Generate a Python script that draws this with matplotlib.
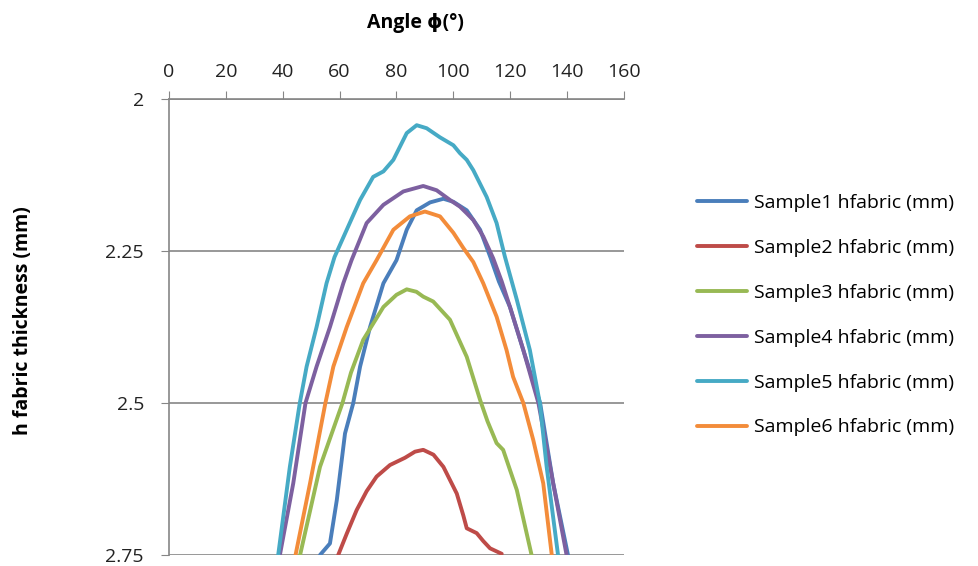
import matplotlib
matplotlib.use('Agg')
import matplotlib.pyplot as plt

# values (angle in degrees, thickness in mm)
s1_x = [53.1, 56.6, 59.0, 61.9, 64.8, 67.2, 70.7, 75.4, 80.0, 83.6, 87.1, 91.8, 96.5, 100.0,
        104.7, 109.4, 113.0, 116.0, 119.9, 124.6, 130.5, 135.1, 140.3]
s1_y = [2.75, 2.731, 2.66, 2.55, 2.5, 2.44, 2.375, 2.303, 2.265, 2.215, 2.183, 2.17, 2.164, 2.169,
        2.183, 2.215, 2.26, 2.30, 2.342, 2.413, 2.5, 2.632, 2.75]

s2_x = [59.5, 62.5, 66.0, 69.5, 73.0, 77.7, 83.0, 86.5, 89.4, 93.0, 96.5, 101.2, 103.5,
        104.7, 108.2, 110.5, 112.9, 117.0]
s2_y = [2.75, 2.715, 2.676, 2.645, 2.621, 2.602, 2.59, 2.58, 2.577, 2.585, 2.605, 2.649, 2.685,
        2.706, 2.714, 2.727, 2.739, 2.748]

s3_x = [46.1, 53.1, 61.0, 64.0, 68.3, 75.4, 80.0, 83.6, 87.0, 89.4, 92.9, 98.8, 104.7, 109.4,
        112.0, 115.2, 117.5, 122.3, 127.5]
s3_y = [2.75, 2.605, 2.5, 2.45, 2.396, 2.342, 2.322, 2.313, 2.317, 2.325, 2.333, 2.363, 2.424, 2.495,
        2.53, 2.566, 2.577, 2.643, 2.75]

s4_x = [39.0, 43.7, 48.0, 51.9, 56.6, 61.3, 64.2, 69.5, 75.4, 82.4, 89.4, 94.1, 98.8, 102.3,
        104.7, 107.0, 110.5, 114.0, 117.0, 119.9, 124.6, 129.9, 135.1, 139.8]
s4_y = [2.75, 2.632, 2.5, 2.44, 2.375, 2.303, 2.265, 2.204, 2.174, 2.152, 2.143, 2.15, 2.166, 2.177,
        2.188, 2.199, 2.226, 2.262, 2.30, 2.342, 2.413, 2.5, 2.632, 2.75]

s5_x = [38.4, 42.5, 46.0, 48.4, 51.9, 55.4, 58.2, 62.5, 67.2, 71.8, 75.4, 78.9, 83.6, 87.1,
        90.6, 95.3, 100.0, 102.3, 104.7, 107.0, 111.7, 115.2, 118.1, 122.3, 126.9, 130.4,
        132.8, 136.8]
s5_y = [2.75, 2.605, 2.5, 2.44, 2.375, 2.303, 2.26, 2.215, 2.166, 2.128, 2.119, 2.10, 2.056, 2.043,
        2.048, 2.063, 2.076, 2.089, 2.10, 2.117, 2.161, 2.204, 2.259, 2.33, 2.413, 2.5,
        2.605, 2.75]

s6_x = [44.5, 49.6, 55.0, 57.8, 62.5, 68.3, 73.0, 78.9, 84.7, 90.0, 95.3, 100.0, 103.5, 107.0,
        110.5, 115.2, 118.7, 121.0, 124.6, 128.1, 131.6, 134.6]
s6_y = [2.75, 2.632, 2.5, 2.44, 2.375, 2.303, 2.265, 2.215, 2.193, 2.185, 2.193, 2.22, 2.245, 2.268,
        2.303, 2.358, 2.413, 2.457, 2.5, 2.561, 2.632, 2.75]

labels = ['Sample1 hfabric (mm)', 'Sample2 hfabric (mm)', 'Sample3 hfabric (mm)',
          'Sample4 hfabric (mm)', 'Sample5 hfabric (mm)', 'Sample6 hfabric (mm)']
colors = ['#4A7EBB', '#BE4B48', '#98B954', '#7D60A0', '#46AAC5', '#F38C3A']

xs = [s1_x, s2_x, s3_x, s4_x, s5_x, s6_x]
ys = [s1_y, s2_y, s3_y, s4_y, s5_y, s6_y]

plt.rcParams['font.family'] = ['Open Sans', 'DejaVu Sans']

fig = plt.figure(figsize=(9.79, 5.66), dpi=100)
ax = fig.add_axes([0.1726, 0.0194, 0.4648, 0.8056])

for x, y, c, lab in zip(xs, ys, colors, labels):
    ax.plot(x, y, color=c, lw=2.8, label=lab, solid_capstyle='round', solid_joinstyle='round')

ax.set_xlim(0, 160)
ax.set_ylim(2.75, 2.0)
ax.set_xticks(range(0, 161, 20))
ax.set_yticks([2, 2.25, 2.5, 2.75])
ax.set_yticklabels(['2', '2.25', '2.5', '2.75'])
ax.xaxis.tick_top()
ax.xaxis.set_label_position('top')
ax.tick_params(axis='both', colors='#868686', labelcolor='#222222', labelsize=14, length=6)
ax.tick_params(axis='x', pad=7)
ax.tick_params(axis='y', pad=12)

for sp in ['right', 'bottom']:
    ax.spines[sp].set_visible(False)
for sp in ['left', 'top']:
    ax.spines[sp].set_color('#868686')
    ax.spines[sp].set_linewidth(1.2)

ax.yaxis.grid(True, color='#868686', lw=1.2)
ax.set_axisbelow(True)

fig.text(0.424, 0.96, 'Angle ϕ(°)', ha='center', va='center', fontsize=14, fontweight='bold')
fig.text(0.024, 0.433, 'h fabric thickness (mm)', ha='center', va='center', rotation=90,
         fontsize=14, fontweight='bold')

fig.legend(loc='center left', bbox_to_anchor=(0.694, 0.443), frameon=False, fontsize=14,
           handlelength=2.6, labelspacing=1.38, handletextpad=0.36)

fig.savefig('out.png', dpi=100)
